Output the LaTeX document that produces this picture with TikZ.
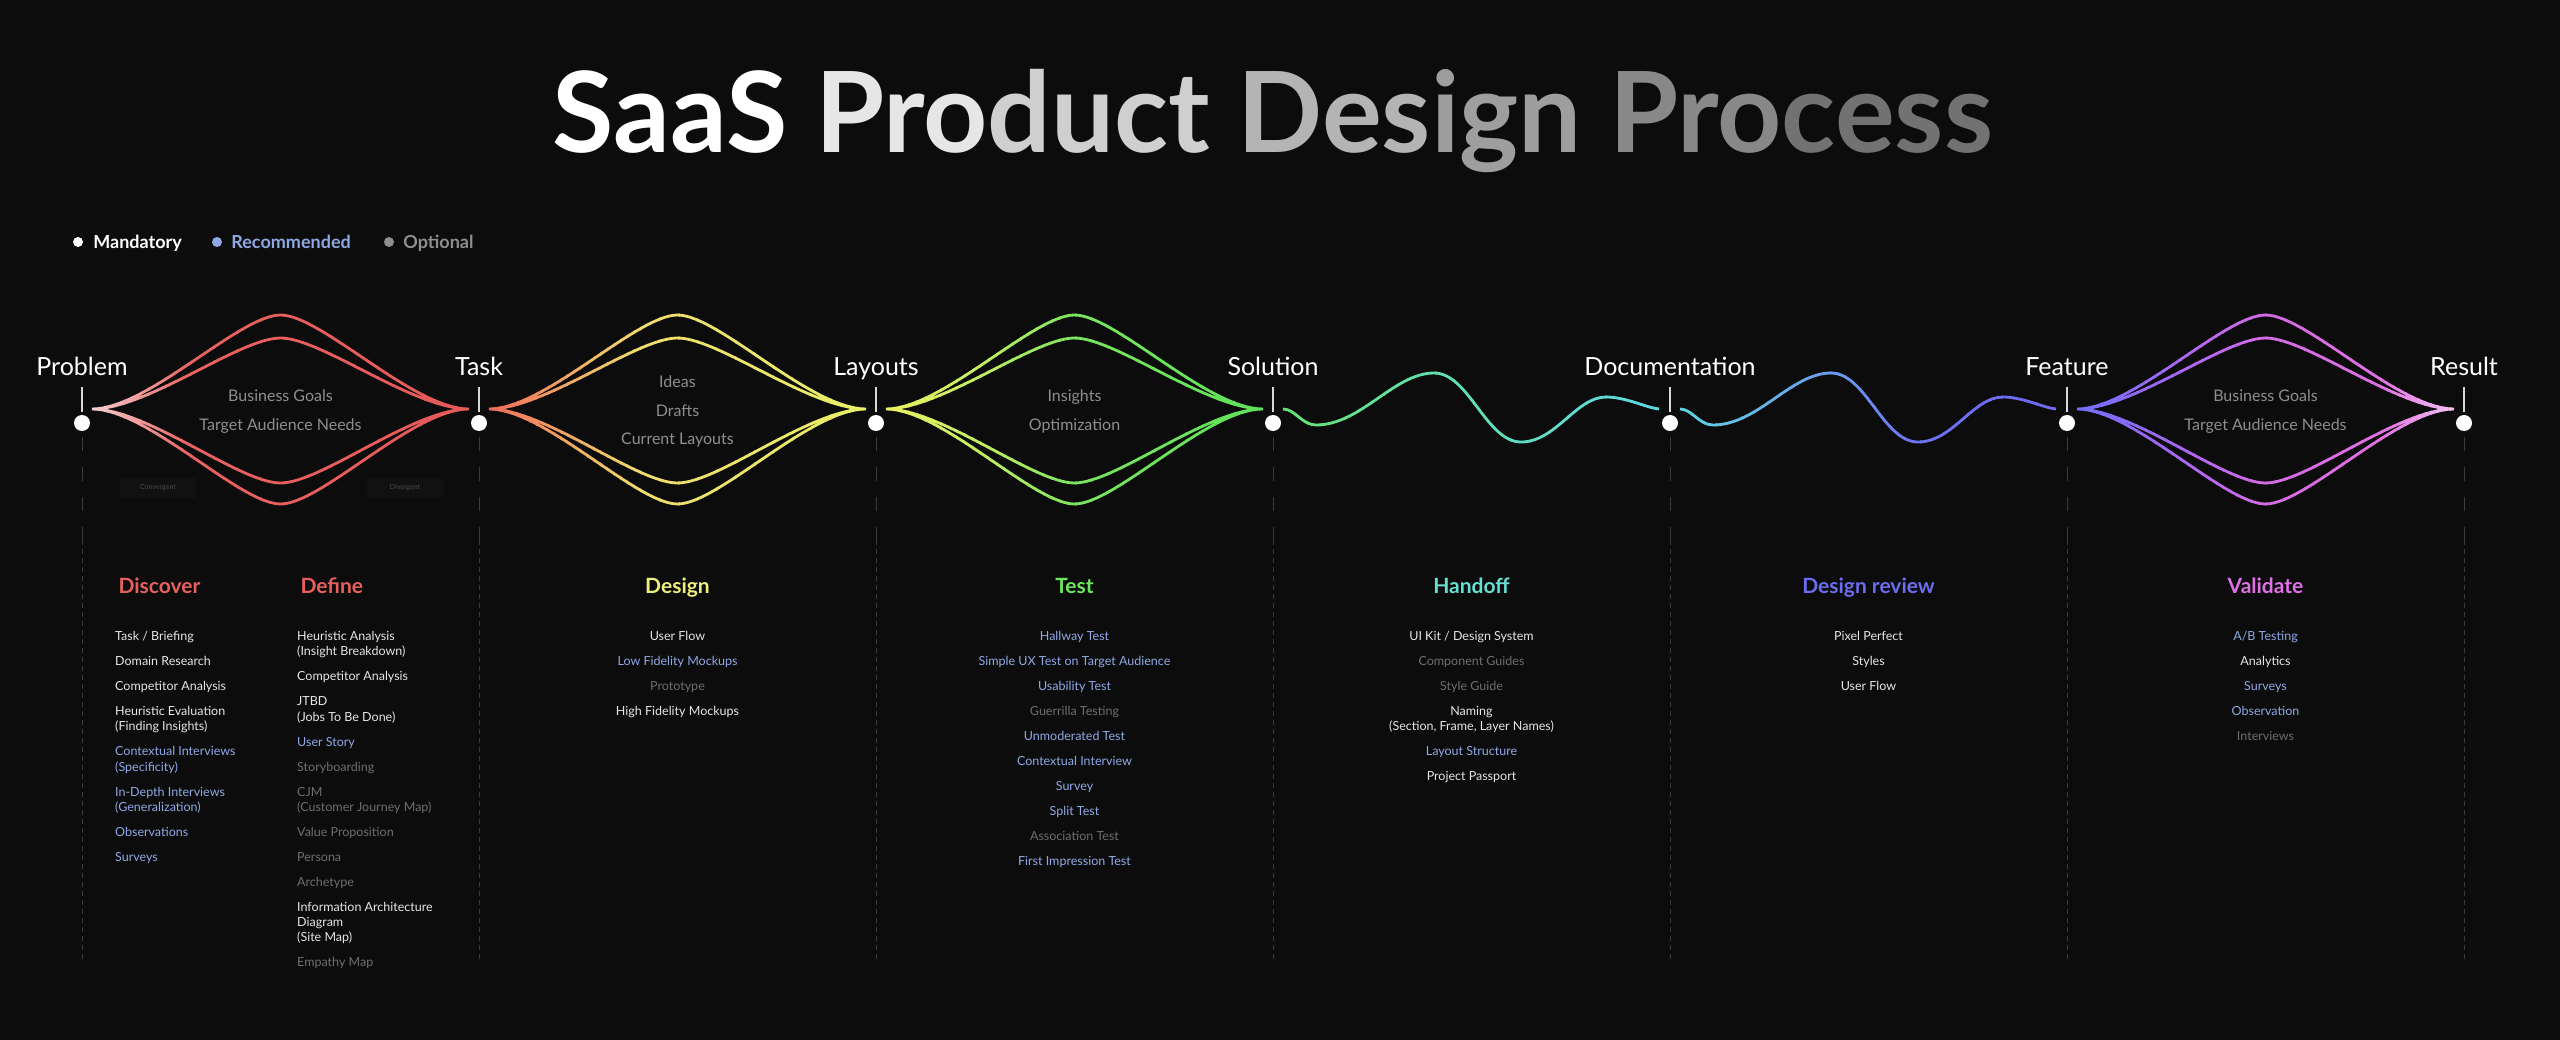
\documentclass[tikz,border=0pt]{standalone}
\usepackage{fontspec}
\setmainfont{Lato}
\usepackage{tikz}
\usetikzlibrary{positioning}

\definecolor{bg}{HTML}{0C0C0C}
\definecolor{mand}{HTML}{E6E6E6}
\definecolor{reco}{HTML}{8FA9E6}
\definecolor{optl}{HTML}{6E6E6E}
\definecolor{notec}{HTML}{8E8E8E}
\definecolor{guidec}{HTML}{3A3A3A}
\definecolor{tagbg}{HTML}{111111}
\definecolor{tagtx}{HTML}{4C4C4C}
% title
\definecolor{t1}{HTML}{E6E6E6}
\definecolor{t2}{HTML}{CFCFCF}
\definecolor{t3}{HTML}{B4B4B4}
\definecolor{t4}{HTML}{9E9E9E}
\definecolor{t5}{HTML}{888888}
\definecolor{t6}{HTML}{727272}
% curves, left to right
\definecolor{d1a}{HTML}{F5D3D3}
\definecolor{d1b}{HTML}{E8625F}
\definecolor{d1c}{HTML}{E65A58}
\definecolor{d2a}{HTML}{EE6A5C}
\definecolor{d2b}{HTML}{F0A262}
\definecolor{d2c}{HTML}{F0DC6E}
\definecolor{d2d}{HTML}{E8F066}
\definecolor{d3a}{HTML}{EEF064}
\definecolor{d3b}{HTML}{C2EE62}
\definecolor{d3c}{HTML}{7AE45E}
\definecolor{d3d}{HTML}{5EE25A}
\definecolor{w1a}{HTML}{66E270}
\definecolor{w1b}{HTML}{62DFB0}
\definecolor{w1c}{HTML}{5ED8E2}
\definecolor{w2a}{HTML}{5ED4E2}
\definecolor{w2b}{HTML}{6A9CEC}
\definecolor{w2c}{HTML}{6C72F0}
\definecolor{w2d}{HTML}{7068F2}
\definecolor{d4a}{HTML}{6E6EFA}
\definecolor{d4b}{HTML}{A866F0}
\definecolor{d4c}{HTML}{D46AE6}
\definecolor{d4d}{HTML}{E070E2}
\definecolor{d4e}{HTML}{F2C4F2}
% headings
\definecolor{hdis}{HTML}{E8605E}
\definecolor{hdes}{HTML}{ECEF7C}
\definecolor{htes}{HTML}{6CE65E}
\definecolor{hhan}{HTML}{66DED2}
\definecolor{hrev}{HTML}{6B6CF0}
\definecolor{hval}{HTML}{E070E6}

\newcommand{\mand}[1]{\textcolor{mand}{#1}}
\newcommand{\reco}[1]{\textcolor{reco}{#1}}
\newcommand{\optl}[1]{\textcolor{optl}{#1}}

% double diamond, from the left tip #1
\newcommand{\diamondpath}[1]{%
  (#1) .. controls +(56,0) and +(-41,0) .. ++(188.5,-94) .. controls +(41,0) and +(-56,0) .. ++(188.5,94)
  (#1) .. controls +(56,0) and +(-41,0) .. ++(188.5,-71) .. controls +(41,0) and +(-56,0) .. ++(188.5,71)
  (#1) .. controls +(56,0) and +(-41,0) .. ++(188.5,74) .. controls +(41,0) and +(-56,0) .. ++(188.5,-74)
  (#1) .. controls +(56,0) and +(-41,0) .. ++(188.5,95) .. controls +(41,0) and +(-56,0) .. ++(188.5,-95)}
% wave, from #1
\newcommand{\wavepath}[1]{%
  (#1) .. controls +(12,0) and +(-14,0) .. ++(33,16)
       .. controls +(45,0) and +(-40,0) .. ++(118,-52)
       .. controls +(35,0) and +(-35,0) .. ++(87,69)
       .. controls +(35,0) and +(-30,0) .. ++(85,-45)
       .. controls +(20,0) and +(-12,-1) .. ++(53,12)}
% path #5 in strips from x=#1 to x=#2, colour #3 to #4
\newcommand{\gradstroke}[5]{%
  \foreach \i in {0,...,11} {
    \pgfmathsetmacro{\xa}{#1+(#2-#1)*\i/12}
    \pgfmathsetmacro{\xb}{#1+(#2-#1)*(\i+1)/12+1.5}
    \pgfmathtruncatemacro{\pc}{100*(\i+0.5)/12}
    \colorlet{strip}{#4!\pc!#3}
    \begin{scope}
      \clip (\xa,0) rectangle (\xb,1040);
      \draw[curve, strip] #5;
    \end{scope}
  }}

\begin{document}
\begin{tikzpicture}[x=1pt, y=-1pt,
    stagedot/.style={circle, fill=white, inner sep=0, minimum size=16pt},
    stage/.style={text=white, anchor=base, font=\fontsize{25}{30}\selectfont},
    stem/.style={white!85!black, line width=1.5pt},
    guide/.style={guidec, line width=1pt, dash pattern=on 14pt off 16pt},
    guidefine/.style={guidec, line width=1pt, dash pattern=on 5pt off 4pt},
    curve/.style={line width=2.8pt},
    note/.style={text=notec, align=center, anchor=north, inner sep=0, font=\fontsize{16}{28.5}\selectfont},
    heading/.style={anchor=base, font=\bfseries\fontsize{21}{25}\selectfont},
    items/.style={anchor=north, inner sep=0, align=center, font=\fontsize{12.5}{15.3}\selectfont},
    legdot/.style={circle, inner sep=0, minimum size=10pt},
    legend/.style={inner sep=0, font=\bfseries\fontsize{18}{22}\selectfont, text height=13pt, text depth=0pt},
    tag/.style={fill=tagbg, rounded corners=3pt, minimum width=77pt, minimum height=20pt, text=tagtx, font=\fontsize{7}{8}\selectfont}
  ]
	\useasboundingbox (0,0) rectangle (2560,1040);
	\fill[bg] (0,0) rectangle (2560,1040);

	\node[anchor=base, font=\bfseries\fontsize{112}{120}\selectfont] (ttl) at (1273,153)
		{\textcolor{white}{SaaS} \textcolor{t1}{Pro}\textcolor{t2}{duct} \textcolor{t3}{Des}\textcolor{t4}{ign} \textcolor{t5}{Pro}\textcolor{t6}{cess}};

	% legend
	\node[legdot, fill=white] (lm) at (78,242) {};
	\node[legend, text=white, right=10pt of lm] (lmt) {Mandatory};
	\node[legdot, fill=reco] (lr) at (217,242) {};
	\node[legend, text=reco, right=9pt of lr] (lrt) {Recommended};
	\node[legdot, fill=notec] (lo) at (389,242) {};
	\node[legend, text=notec, right=9pt of lo] (lot) {Optional};

	% stages
	\foreach \x/\n/\t in {82/prob/Problem, 479/task/Task, 876/lay/Layouts, 1273/sol/Solution, 1670/doc/Documentation, 2067/feat/Feature, 2464/res/Result} {
		\node[stagedot] (\n) at (\x,423) {};
		\node[stage] (\n-l) at (\x,376) {\t};
		\draw[stem] ([yshift=3pt]\n.north) -- ++(0,-25);
		\draw[guide] ([yshift=-6pt]\n.south) -- (\x,540);
		\draw[guidefine] (\x,540) -- (\x,960);
		\coordinate (\n-out) at ([xshift=10pt,yshift=14pt]\n.center);
	};

	\gradstroke{90}{190}{d1a}{d1b}{\diamondpath{prob-out}}
	\gradstroke{190}{471}{d1b}{d1c}{\diamondpath{prob-out}}
	\gradstroke{487}{560}{d2a}{d2b}{\diamondpath{task-out}}
	\gradstroke{560}{640}{d2b}{d2c}{\diamondpath{task-out}}
	\gradstroke{640}{868}{d2c}{d2d}{\diamondpath{task-out}}
	\gradstroke{884}{980}{d3a}{d3b}{\diamondpath{lay-out}}
	\gradstroke{980}{1075}{d3b}{d3c}{\diamondpath{lay-out}}
	\gradstroke{1075}{1265}{d3c}{d3d}{\diamondpath{lay-out}}
	\gradstroke{1281}{1435}{w1a}{w1b}{\wavepath{sol-out}}
	\gradstroke{1435}{1662}{w1b}{w1c}{\wavepath{sol-out}}
	\gradstroke{1678}{1830}{w2a}{w2b}{\wavepath{doc-out}}
	\gradstroke{1830}{1920}{w2b}{w2c}{\wavepath{doc-out}}
	\gradstroke{1920}{2059}{w2c}{w2d}{\wavepath{doc-out}}
	\gradstroke{2075}{2180}{d4a}{d4b}{\diamondpath{feat-out}}
	\gradstroke{2180}{2265}{d4b}{d4c}{\diamondpath{feat-out}}
	\gradstroke{2265}{2380}{d4c}{d4d}{\diamondpath{feat-out}}
	\gradstroke{2380}{2456}{d4d}{d4e}{\diamondpath{feat-out}}

	\node[note] (n1) at (280.5,390) {Business Goals\\Target Audience Needs};
	\node[note] (n2) at (677.5,376) {Ideas\\Drafts\\Current Layouts};
	\node[note] (n3) at (1074.5,390) {Insights\\Optimization};
	\node[note] (n4) at (2265.5,390) {Business Goals\\Target Audience Needs};

	\node[tag] (conv) at (158,488) {Convergent};
	\node[tag] (div) at (405,488) {Divergent};

	% phases
	\node[heading, text=hdis, anchor=base west] (discover) at (115,593) {Discover};
	\node[heading, text=hdis, anchor=base west] (define) at (297,593) {Define};
	\node[heading, text=hdes] (design) at (677.5,593) {Design};
	\node[heading, text=htes] (test) at (1074.5,593) {Test};
	\node[heading, text=hhan] (handoff) at (1471.5,593) {Handoff};
	\node[heading, text=hrev] (review) at (1868.5,593) {Design review};
	\node[heading, text=hval] (validate) at (2265.5,593) {Validate};

	\node[items, anchor=north west, align=left] (discover-l) at (115,631) {%
		\mand{Task / Briefing}\\[9.7pt]
		\mand{Domain Research}\\[9.7pt]
		\mand{Competitor Analysis}\\[9.7pt]
		\mand{Heuristic Evaluation}\\\mand{(Finding Insights)}\\[9.7pt]
		\reco{Contextual Interviews}\\\reco{(Specificity)}\\[9.7pt]
		\reco{In-Depth Interviews}\\\reco{(Generalization)}\\[9.7pt]
		\reco{Observations}\\[9.7pt]
		\reco{Surveys}};
	\node[items, anchor=north west, align=left] (define-l) at (297,631) {%
		\mand{Heuristic Analysis}\\\mand{(Insight Breakdown)}\\[9.7pt]
		\mand{Competitor Analysis}\\[9.7pt]
		\mand{JTBD}\\\mand{(Jobs To Be Done)}\\[9.7pt]
		\reco{User Story}\\[9.7pt]
		\optl{Storyboarding}\\[9.7pt]
		\optl{CJM}\\\optl{(Customer Journey Map)}\\[9.7pt]
		\optl{Value Proposition}\\[9.7pt]
		\optl{Persona}\\[9.7pt]
		\optl{Archetype}\\[9.7pt]
		\mand{Information Architecture}\\\mand{Diagram}\\\mand{(Site Map)}\\[9.7pt]
		\optl{Empathy Map}};
	\node[items] (design-l) at (677.5,631) {%
		\mand{User Flow}\\[9.7pt]
		\reco{Low Fidelity Mockups}\\[9.7pt]
		\optl{Prototype}\\[9.7pt]
		\mand{High Fidelity Mockups}};
	\node[items] (test-l) at (1074.5,631) {%
		\reco{Hallway Test}\\[9.7pt]
		\reco{Simple UX Test on Target Audience}\\[9.7pt]
		\reco{Usability Test}\\[9.7pt]
		\optl{Guerrilla Testing}\\[9.7pt]
		\reco{Unmoderated Test}\\[9.7pt]
		\reco{Contextual Interview}\\[9.7pt]
		\reco{Survey}\\[9.7pt]
		\reco{Split Test}\\[9.7pt]
		\optl{Association Test}\\[9.7pt]
		\reco{First Impression Test}};
	\node[items] (handoff-l) at (1471.5,631) {%
		\mand{UI Kit / Design System}\\[9.7pt]
		\optl{Component Guides}\\[9.7pt]
		\optl{Style Guide}\\[9.7pt]
		\mand{Naming}\\\mand{(Section, Frame, Layer Names)}\\[9.7pt]
		\reco{Layout Structure}\\[9.7pt]
		\mand{Project Passport}};
	\node[items] (review-l) at (1868.5,631) {%
		\mand{Pixel Perfect}\\[9.7pt]
		\mand{Styles}\\[9.7pt]
		\mand{User Flow}};
	\node[items] (validate-l) at (2265.5,631) {%
		\reco{A/B Testing}\\[9.7pt]
		\mand{Analytics}\\[9.7pt]
		\reco{Surveys}\\[9.7pt]
		\reco{Observation}\\[9.7pt]
		\optl{Interviews}};
\end{tikzpicture}
\end{document}
